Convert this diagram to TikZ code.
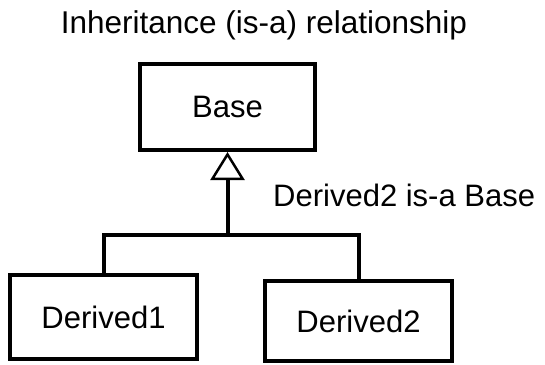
\documentclass[tikz,border=0pt]{standalone}
\usepackage{fontspec}
\setmainfont{Liberation Sans}
\usetikzlibrary{arrows.meta}
\begin{document}
\begin{tikzpicture}[x=1pt,y=-1pt,
  classbox/.style={draw=black,line width=4pt,fill=white,inner sep=0pt,
    font=\fontsize{31}{37}\selectfont},
  link/.style={line width=4pt},
  label/.style={inner sep=0pt,font=\fontsize{31}{37}\selectfont}]
  \useasboundingbox[fill=white] (0,0) rectangle (545,364);

  % title
  \node[label,anchor=base,font=\fontsize{31.5}{38}\selectfont] (title) at (264,33) {Inheritance (is-a) relationship};

  % classes
  \node[classbox,minimum width=175pt,minimum height=86pt] (base) at (227.5,107) {Base};
  \node[classbox,minimum width=187pt,minimum height=84pt] (d1) at (103.5,317) {Derived1};
  \node[classbox,minimum width=187pt,minimum height=80pt] (d2) at (358.5,321) {Derived2};

  % generalization connector
  \coordinate (j) at (227.5,235);
  \draw[link] (d1.north) |- (j) -| (d2.north);
  \draw[link,-{Triangle[open,length=28pt,width=34pt,line width=2.5pt]}] (j) -- (base.south);

  \node[label,anchor=base west] (isa) at (273,206) {Derived2 is-a Base};
\end{tikzpicture}
\end{document}
